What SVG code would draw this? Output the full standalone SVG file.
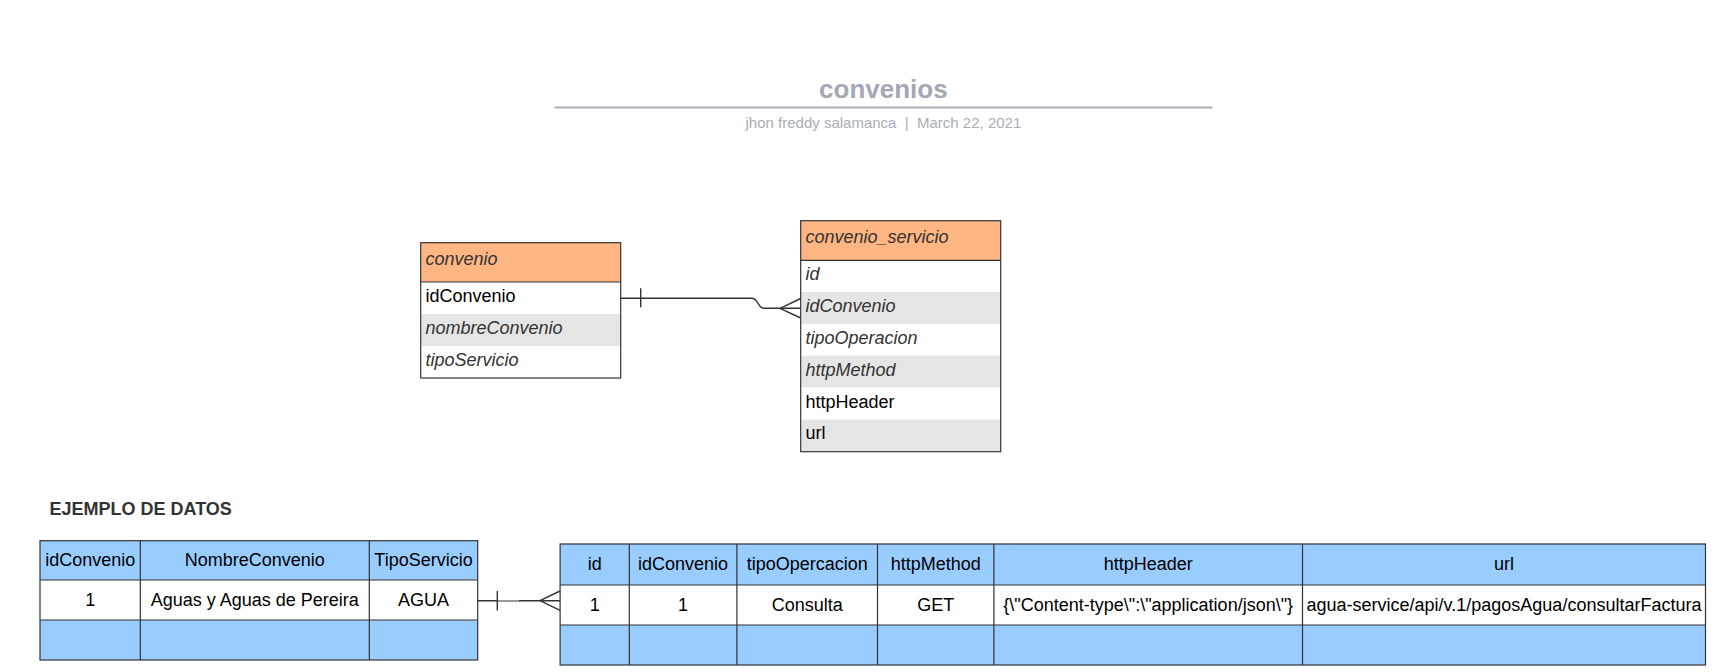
<svg xmlns="http://www.w3.org/2000/svg" width="1722" height="672" viewBox="0 0 1722 672">
<style>
text{font-family:"Liberation Sans",Arial,sans-serif}
.title{font-size:26px;font-weight:bold;fill:#a3a8b5}
.sub{font-size:15px;fill:#a9adb8}
.hdr{fill:#ffb682}
.box{fill:none;stroke:#333;stroke-width:1.2}
.sep{stroke:#333;stroke-width:1.2}
.gray{fill:#e5e5e5}
.f{font-size:18px}
.it{font-style:italic;fill:#333}
.n{fill:#000}
.blue{fill:#99ccff}
.white{fill:#fff}
.c{text-anchor:middle;font-size:18px;fill:#000}
.h2{font-size:18px;font-weight:bold;fill:#333}
.conn{fill:none;stroke:#333;stroke-width:1.4}
</style>
<rect width="1722" height="672" fill="#fff"/>
<g id="title">
<text class="title" x="883.4" y="97.5" text-anchor="middle">convenios</text>
<line x1="554.6" y1="107.6" x2="1212.4" y2="107.6" stroke="#a9aeb9" stroke-width="2"/>
<text class="sub" x="883.4" y="127.5" text-anchor="middle">jhon freddy salamanca&#160;&#160;|&#160;&#160;March 22, 2021</text>
</g>
<g id="convenio">
<rect class="hdr" x="420.7" y="242.7" width="200" height="39.3"/>
<rect class="white" x="420.7" y="282" width="200" height="32"/>
<rect class="gray" x="421.3" y="314" width="198.8" height="32"/>
<rect class="box" x="420.7" y="242.7" width="200" height="135.3"/>
<line class="sep" x1="420.7" y1="282" x2="620.7" y2="282"/>
<text class="f it" x="425.5" y="265.3">convenio</text>
<text class="f n" x="425.5" y="302">idConvenio</text>
<text class="f it" x="425.5" y="334">nombreConvenio</text>
<text class="f it" x="425.5" y="366">tipoServicio</text>
</g>
<g id="convenio_servicio">
<rect class="hdr" x="800.7" y="220.7" width="200" height="39.6"/>
<rect class="white" x="800.7" y="260.3" width="200" height="191"/>
<rect class="gray" x="801.3" y="292" width="198.8" height="31.8"/>
<rect class="gray" x="801.3" y="355.7" width="198.8" height="31.8"/>
<rect class="gray" x="801.3" y="419.6" width="198.8" height="31.8"/>
<rect class="box" x="800.7" y="220.7" width="200" height="231"/>
<line class="sep" x1="800.7" y1="260.3" x2="1000.7" y2="260.3"/>
<text class="f it" x="805.5" y="243.3">convenio_servicio</text>
<text class="f it" x="805.5" y="280.3">id</text>
<text class="f it" x="805.5" y="312">idConvenio</text>
<text class="f it" x="805.5" y="343.8">tipoOperacion</text>
<text class="f it" x="805.5" y="375.6">httpMethod</text>
<text class="f n" x="805.5" y="407.5">httpHeader</text>
<text class="f n" x="805.5" y="439.4">url</text>
</g>
<g id="ejemplo-label">
<text class="h2" x="49.5" y="515">EJEMPLO DE DATOS</text>
</g>
<g id="tabla-convenio">
<rect class="blue" x="40" y="540.7" width="437.7" height="39.3"/>
<rect class="white" x="40" y="580" width="437.7" height="40"/>
<rect class="blue" x="40" y="620" width="437.7" height="40"/>
<rect class="box" x="40" y="540.7" width="437.7" height="119.3"/>
<line class="sep" x1="40" y1="580" x2="477.7" y2="580"/>
<line class="sep" x1="40" y1="620" x2="477.7" y2="620"/>
<line class="sep" x1="140.3" y1="540.7" x2="140.3" y2="660"/>
<line class="sep" x1="369.3" y1="540.7" x2="369.3" y2="660"/>
<text class="c" x="90.2" y="566">idConvenio</text>
<text class="c" x="254.8" y="566">NombreConvenio</text>
<text class="c" x="423.5" y="566">TipoServicio</text>
<text class="c" x="90.2" y="606">1</text>
<text class="c" x="254.8" y="606">Aguas y Aguas de Pereira</text>
<text class="c" x="423.5" y="606">AGUA</text>
</g>
<g id="tabla-convenio-servicio">
<rect class="blue" x="560.1" y="544" width="1145.4" height="41"/>
<rect class="white" x="560.1" y="585" width="1145.4" height="40"/>
<rect class="blue" x="560.1" y="625" width="1145.4" height="40"/>
<rect class="box" x="560.1" y="544" width="1145.4" height="121"/>
<line class="sep" x1="560.1" y1="585" x2="1705.5" y2="585"/>
<line class="sep" x1="560.1" y1="625" x2="1705.5" y2="625"/>
<line class="sep" x1="629.3" y1="544" x2="629.3" y2="665"/>
<line class="sep" x1="736.9" y1="544" x2="736.9" y2="665"/>
<line class="sep" x1="877.5" y1="544" x2="877.5" y2="665"/>
<line class="sep" x1="993.9" y1="544" x2="993.9" y2="665"/>
<line class="sep" x1="1302.5" y1="544" x2="1302.5" y2="665"/>
<text class="c" x="594.7" y="570">id</text>
<text class="c" x="683.1" y="570">idConvenio</text>
<text class="c" x="807.2" y="570">tipoOpercacion</text>
<text class="c" x="935.7" y="570">httpMethod</text>
<text class="c" x="1148.2" y="570">httpHeader</text>
<text class="c" x="1504" y="570">url</text>
<text class="c" x="594.7" y="611">1</text>
<text class="c" x="683.1" y="611">1</text>
<text class="c" x="807.2" y="611">Consulta</text>
<text class="c" x="935.7" y="611">GET</text>
<text class="c" x="1148.2" y="611">{\"Content-type\":\"application/json\"}</text>
<text class="c" x="1504" y="611">agua-service/api/v.1/pagosAgua/consultarFactura</text>
</g>
<g id="connectors">
<path class="conn" d="M620.7 298.3 H752 C758 298.3 758 308.3 764 308.3 H800.7"/>
<path class="conn" d="M640.7 288.3 V307.3"/>
<path class="conn" d="M780 308.3 L800.7 298.5 M780 308.3 L800.7 318"/>
<path class="conn" d="M477.7 600.7 H560.1"/>
<path d="M498 600.7 H519" stroke="#999" stroke-width="1.4"/>
<path class="conn" d="M497.3 591 V610.4"/>
<path class="conn" d="M540 600.7 L560.1 591 M540 600.7 L560.1 610.4"/>
</g>
</svg>
